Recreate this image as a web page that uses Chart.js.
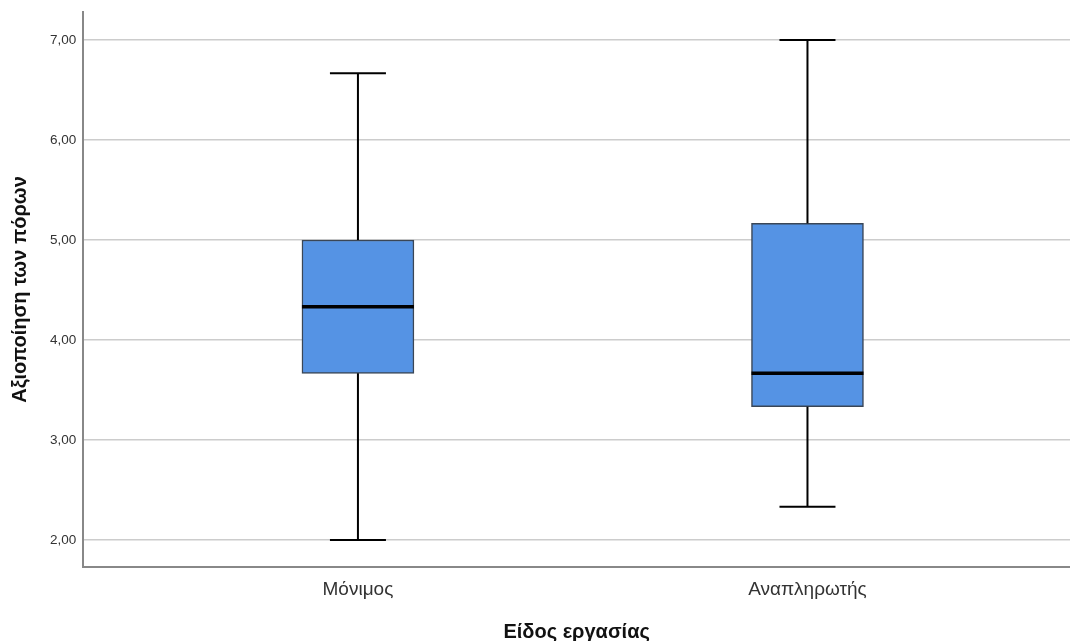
<!DOCTYPE html>
<html>
<head>
<meta charset="utf-8">
<style>
  html, body { margin: 0; padding: 0; background: #ffffff; }
  #wrap { width: 1070px; height: 641px; }
</style>
<script src="https://cdn.jsdelivr.net/npm/chart.js@4.4.1/dist/chart.umd.min.js"></script>
</head>
<body>
<div id="wrap"><canvas id="c" width="1070" height="641"></canvas></div>
<script>
// Box-plot summary per employment type
const categories = ['Μόνιμος', 'Αναπληρωτής'];
const whiskerLow = [2.00, 2.333];
const quartile1  = [3.667, 3.333];
const medians    = [4.333, 3.667];
const quartile3  = [5.00, 5.167];
const whiskerHigh = [6.667, 7.00];
const yTicks = [2, 3, 4, 5, 6, 7];

const FONT = "'Liberation Sans', Arial, sans-serif";

// Whiskers, caps and median lines drawn on top of the boxes
const boxExtras = {
  id: 'boxExtras',
  afterDatasetsDraw(chart) {
    const { ctx, scales: { x, y } } = chart;
    const meta = chart.getDatasetMeta(0);
    ctx.save();
    categories.forEach((_, i) => {
      const bar = meta.data[i];
      const cx = x.getPixelForValue(i);
      const half = bar.width / 2;
      const capHalf = half / 2;
      ctx.strokeStyle = '#000000';
      ctx.lineWidth = 2;
      ctx.beginPath();
      // upper whisker
      ctx.moveTo(cx, y.getPixelForValue(quartile3[i]));
      ctx.lineTo(cx, y.getPixelForValue(whiskerHigh[i]));
      // lower whisker
      ctx.moveTo(cx, y.getPixelForValue(quartile1[i]));
      ctx.lineTo(cx, y.getPixelForValue(whiskerLow[i]));
      // caps
      const yh = y.getPixelForValue(whiskerHigh[i]);
      const yl = y.getPixelForValue(whiskerLow[i]);
      ctx.moveTo(cx - capHalf, yh); ctx.lineTo(cx + capHalf, yh);
      ctx.moveTo(cx - capHalf, yl); ctx.lineTo(cx + capHalf, yl);
      ctx.stroke();
      // median
      const ym = y.getPixelForValue(medians[i]);
      ctx.lineWidth = 3.5;
      ctx.beginPath();
      ctx.moveTo(cx - half, ym); ctx.lineTo(cx + half, ym);
      ctx.stroke();
    });
    ctx.restore();
  }
};

const boxData = categories.map((_, i) => ({ x: i, y: [quartile1[i], quartile3[i]] }));

new Chart(document.getElementById('c'), {
  type: 'bar',
  data: {
    datasets: [{
      data: boxData,
      backgroundColor: '#5593e4',
      borderColor: '#3a4656',
      borderWidth: 1.5,
      borderSkipped: false,
      barThickness: 112
    }]
  },
  options: {
    responsive: false,
    animation: false,
    devicePixelRatio: 1,
    layout: { padding: { top: 12, right: 0, bottom: 0, left: 8 } },
    plugins: { legend: { display: false }, tooltip: { enabled: false } },
    scales: {
      x: {
        type: 'linear',
        offset: false,
        min: -0.611,
        max: 1.584,
        afterBuildTicks(scale) { scale.ticks = categories.map((_, i) => ({ value: i })); },
        afterFit(scale) { scale.height = 74; },
        ticks: {
          callback: (v) => categories[v] ?? '',
          color: '#333333',
          font: { family: FONT, size: 19 },
          padding: 11,
          maxRotation: 0
        },
        grid: { display: false, drawTicks: false },
        border: { display: true, color: '#888888', width: 2 },
        title: {
          display: true,
          text: 'Είδος εργασίας',
          color: '#111111',
          font: { family: FONT, size: 20, weight: 'bold' },
          padding: { top: 6, bottom: -3 }
        }
      },
      y: {
        min: 1.73,
        max: 7.28,
        afterBuildTicks(scale) { scale.ticks = yTicks.map(v => ({ value: v })); },
        afterFit(scale) { scale.paddingTop = 0; scale.paddingBottom = 0; },
        ticks: {
          callback: (v) => v.toFixed(2).replace('.', ','),
          color: '#333333',
          font: { family: FONT, size: 13.5 },
          padding: 7
        },
        grid: { color: '#cccccc', lineWidth: 1.5, drawTicks: false },
        border: { display: true, color: '#888888', width: 2 },
        title: {
          display: true,
          text: 'Αξιοποίηση των πόρων',
          color: '#111111',
          font: { family: FONT, size: 20, weight: 'bold' },
          padding: { top: 0, bottom: 11 }
        }
      }
    }
  },
  plugins: [boxExtras]
});
</script>
</body>
</html>
